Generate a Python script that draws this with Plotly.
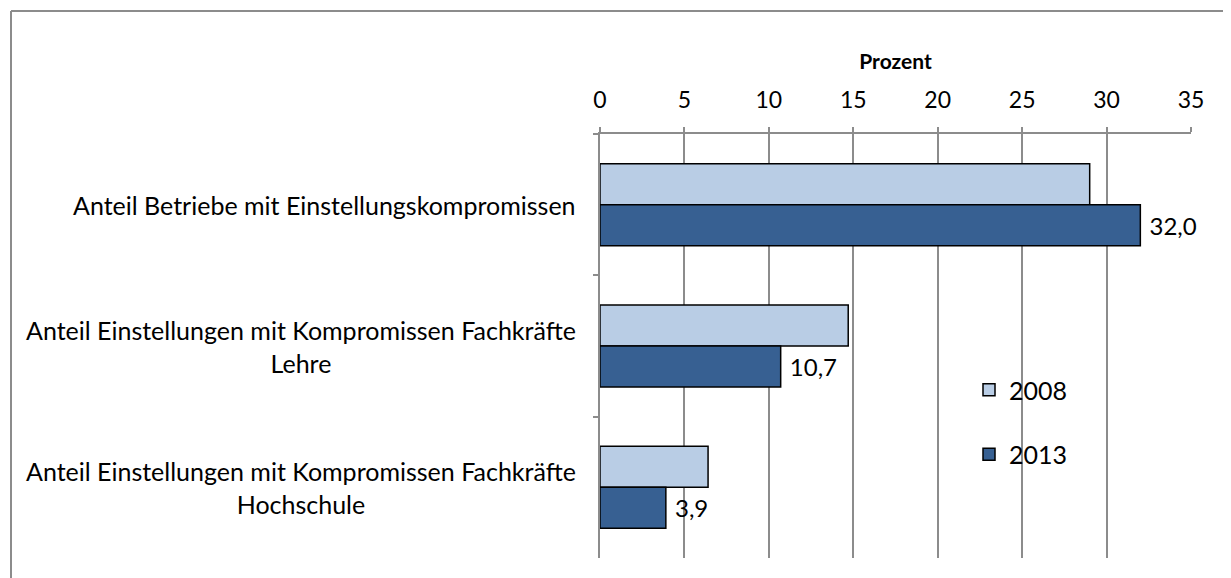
import plotly.graph_objects as go

# ── Daten ────────────────────────────────────────────────────────────────────
kategorien = [
    "Anteil Betriebe mit Einstellungskompromissen",
    "Anteil Einstellungen mit Kompromissen Fachkräfte<br>Lehre",
    "Anteil Einstellungen mit Kompromissen Fachkräfte<br>Hochschule",
]
werte_2008 = [29.0, 14.7, 6.4]
werte_2013 = [32.0, 10.7, 3.9]
achsen_ticks = [0, 5, 10, 15, 20, 25, 30, 35]

FONT = "Lato"
GRAU = "#8c8c8c"

# Seite hat ~7px Body-Rand -> Bildschirmkoordinaten umrechnen
OFF = 7
W, H = 1231, 578
L, T = 599 - OFF, 133 - OFF
R = W - (1190 - OFF)
B = H - (557 - OFF)
pw, ph = W - L - R, H - T - B


def px_x(p):
    return (p - OFF - L) / pw


def px_y(p):
    return (H - B - (p - OFF)) / ph


def fmt(v):
    return f"{v:.1f}".replace(".", ",")


fig = go.Figure()
fig.add_trace(go.Bar(
    y=kategorien, x=werte_2008, orientation="h", name="2008",
    marker=dict(color="#B9CDE5", line=dict(color="black", width=1.5)),
    legendgroup="a",
))
fig.add_trace(go.Bar(
    y=kategorien, x=werte_2013, orientation="h", name="2013",
    marker=dict(color="#376092", line=dict(color="black", width=1.5)),
    text=[" " + fmt(v) for v in werte_2013], textposition="outside",
    textfont=dict(family=FONT, size=24, color="black"),
    cliponaxis=False, legendgroup="b",
))

# Kategorienbeschriftung links (zentrierte Zeilen wie im Excel-Umbruch)
for kat in kategorien:
    fig.add_annotation(x=px_x(577), y=kat, xref="paper", yref="y", text=kat,
                       xanchor="right", yanchor="middle", align="center",
                       showarrow=False,
                       font=dict(family=FONT, size=25, color="black"))

# Rahmen (nur oben/links sichtbar)
fig.add_shape(type="line", xref="paper", yref="paper",
              x0=px_x(10), x1=px_x(W + 20), y0=px_y(10), y1=px_y(10),
              line=dict(color=GRAU, width=2))
fig.add_shape(type="line", xref="paper", yref="paper",
              x0=px_x(10), x1=px_x(10), y0=px_y(10), y1=px_y(H + 20),
              line=dict(color=GRAU, width=2))

fig.update_layout(
    width=W, height=H,
    margin=dict(l=L, r=R, t=T, b=B),
    paper_bgcolor="white", plot_bgcolor="white",
    barmode="group", bargap=0.42, bargroupgap=0,
    font=dict(family=FONT, size=23, color="black"),
    showlegend=True,
    legend=dict(x=px_x(968), y=px_y(366), xanchor="left", yanchor="top",
                font=dict(family=FONT, size=25), tracegroupgap=29,
                itemwidth=30, bgcolor="rgba(0,0,0,0)"),
    xaxis=dict(
        side="top", range=[0, 35], tickvals=achsen_ticks,
        showgrid=True, gridcolor=GRAU, gridwidth=1.5,
        showline=True, linecolor=GRAU, linewidth=1.5,
        ticks="outside", ticklen=5, tickcolor=GRAU, tickwidth=1.5,
        tickfont=dict(family=FONT, size=23), zeroline=False,
        ticklabelstandoff=10,
        title=dict(text="<b>Prozent</b>", font=dict(family=FONT, size=21), standoff=10),
    ),
    yaxis=dict(
        autorange="reversed", showticklabels=False,
        showline=True, linecolor=GRAU, linewidth=1.5,
        ticks="outside", ticklen=5, tickcolor=GRAU, tickwidth=1.5,
        tickson="boundaries", showgrid=False,
    ),
)

fig.write_html("out.html")
